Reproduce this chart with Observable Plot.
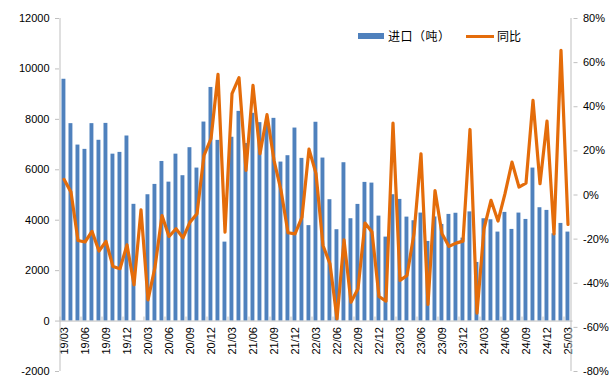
<!DOCTYPE html>
<html><head><meta charset="utf-8">
<script src="https://cdn.jsdelivr.net/npm/d3@7"></script>
<script src="https://cdn.jsdelivr.net/npm/@observablehq/plot@0.6"></script>
<style>
body{margin:0;background:#fff;}
#wrap{position:relative;width:613px;height:391px;font-family:"Liberation Sans",Arial,"Noto Sans CJK SC",sans-serif;}
.sw{position:absolute;}
.lt{position:absolute;font-size:12px;line-height:14px;color:#000;font-family:"Noto Sans CJK SC","Liberation Sans",sans-serif;white-space:nowrap;}
</style></head><body><div id="wrap"></div>
<script>
const months = ["19/03","19/04","19/05","19/06","19/07","19/08","19/09","19/10","19/11","19/12",
"20/01","20/02","20/03","20/04","20/05","20/06","20/07","20/08","20/09","20/10","20/11","20/12",
"21/01","21/02","21/03","21/04","21/05","21/06","21/07","21/08","21/09","21/10","21/11","21/12",
"22/01","22/02","22/03","22/04","22/05","22/06","22/07","22/08","22/09","22/10","22/11","22/12",
"23/01","23/02","23/03","23/04","23/05","23/06","23/07","23/08","23/09","23/10","23/11","23/12",
"24/01","24/02","24/03","24/04","24/05","24/06","24/07","24/08","24/09","24/10","24/11","24/12",
"25/01","25/02","25/03"];
const imports = [9590,7830,6980,6810,7830,7170,7840,6620,6690,7340,
4630,null,5010,5420,6330,5510,6620,5765,6876,6068,7893,9265,
7166,3131,7290,8317,7040,8240,7870,7860,8040,6306,6558,7655,
6452,3785,7885,6465,4813,3623,6280,4059,4627,5500,5472,4163,
3330,5011,4825,4123,3979,4283,3158,4130,3833,4230,4276,3290,
4330,2325,4058,4018,3529,4310,3635,4283,4031,6068,4495,4389,
3463,3873,3529];
const yoy = [7.1,1.3,-20.6,-21.3,-16.5,-25.4,-21.0,-32.4,-33.4,-22.6,
-40.7,-6.7,-47.5,-32.7,-9.3,-18.8,-15.3,-19.4,-12.3,-8.5,18.0,25.5,
54.7,-16.8,45.9,53.2,11.2,49.7,18.7,36.4,15.7,2.1,-17.1,-17.6,
-10.0,20.8,9.7,-22.9,-31.2,-56.1,-20.3,-48.6,-42.5,-12.7,-16.8,-46.0,
-48.1,32.6,-38.7,-36.5,-17.6,18.7,-49.6,2.0,-17.6,-23.3,-21.8,-20.9,
29.7,-53.5,-15.3,-2.4,-11.8,0.6,14.9,3.6,5.4,42.9,5.1,33.5,
-17.6,65.6,-13.3];
const leftTicks = [-2000,0,2000,4000,6000,8000,10000,12000];
const rightTicks = [-80,-60,-40,-20,0,20,40,60,80];
const labelMonths = months.filter((m,i)=>i%3===0);
const seriesNames = ["进口（吨）","同比"];
const colors = ["#4F81BD","#E46C0A"];

const W=613,H=391,mL=59,mR=40.5,mT=18,mB=20;
const leftDomain=[-2000,12000], rightDomain=[-80,80];
const toLeft = p => (p-rightDomain[0])/(rightDomain[1]-rightDomain[0])*(leftDomain[1]-leftDomain[0])+leftDomain[0];
const toRight = v => (v-leftDomain[0])/(leftDomain[1]-leftDomain[0])*(rightDomain[1]-rightDomain[0])+rightDomain[0];
const data = months.map((m,i)=>({m, v: imports[i], p: yoy[i]}));
const font = '"Liberation Sans",Arial,"Noto Sans CJK SC",sans-serif';

const plot = Plot.plot({
  width:W, height:H, marginLeft:mL, marginRight:mR, marginTop:mT, marginBottom:mB,
  style:{fontFamily:font, fontSize:"11px", color:"#000", background:"#fff", overflow:"visible"},
  x:{type:"band", domain:months, padding:0, axis:null},
  y:{domain:leftDomain, axis:null},
  marks:[
    Plot.axisY({anchor:"left", label:null, ticks:leftTicks, tickSize:4, tickPadding:6, tickFormat:d=>String(d), stroke:"#bfbfbf", fill:"#000", fontSize:11}),
    Plot.axisY({anchor:"right", label:null, ticks:rightTicks.map(toLeft), tickSize:4, tickPadding:6, tickFormat:v=>Math.round(toRight(v))+"%", stroke:"#bfbfbf", fill:"#000", fontSize:11}),
    Plot.barY(data.filter(d=>d.v!=null), {x:"m", y:"v", fill:colors[0], insetLeft:1.5, insetRight:1.6}),
    Plot.ruleY([0], {stroke:"#bfbfbf", strokeWidth:1}),
    Plot.line(data, {x:"m", y:d=>toLeft(d.p), stroke:colors[1], strokeWidth:3.2, strokeLinejoin:"round", strokeLinecap:"round"}),
    Plot.text(data.filter(d=>labelMonths.includes(d.m)), {x:"m", y:0, text:"m", rotate:-90, textAnchor:"end", dy:6, fontSize:11, fill:"#000"})
  ]
});
document.getElementById("wrap").appendChild(plot);

// axis lines and category ticks drawn from Plot's own scales
const xs = plot.scale("x"), ys = plot.scale("y");
const svg = d3.select(plot);
const yTop = ys.apply(leftDomain[1]), yBot = ys.apply(leftDomain[0]), y0 = ys.apply(0);
const xL = xs.apply(months[0]), xR = xs.apply(months[months.length-1]) + xs.bandwidth;
const g = svg.append("g").attr("stroke","#bfbfbf").attr("stroke-width",1);
g.append("line").attr("x1",xL).attr("x2",xL).attr("y1",yTop).attr("y2",yBot);
g.append("line").attr("x1",xR).attr("x2",xR).attr("y1",yTop).attr("y2",yBot);
labelMonths.forEach(m=>{
  const x = xs.apply(m);
  g.append("line").attr("x1",x).attr("x2",x).attr("y1",y0-4).attr("y2",y0);
});

// legend
const wrap = document.getElementById("wrap");
function add(cls, css, txt){const d=document.createElement("div");d.className=cls;Object.assign(d.style,css);if(txt)d.textContent=txt;wrap.appendChild(d);}
add("sw",{left:"358px",top:"33px",width:"26px",height:"5.5px",background:colors[0]});
add("lt",{left:"388px",top:"28.5px",letterSpacing:"0.5px"},seriesNames[0]);
add("sw",{left:"466px",top:"34.5px",width:"28px",height:"3px",background:colors[1]});
add("lt",{left:"497px",top:"28.5px"},seriesNames[1]);
</script></body></html>
